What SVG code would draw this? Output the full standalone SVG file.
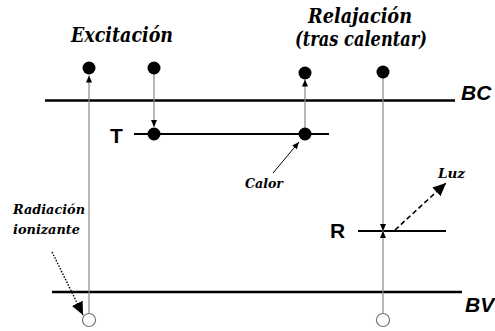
<svg xmlns="http://www.w3.org/2000/svg" width="495" height="331" viewBox="0 0 495 331">
<style>
.band{stroke:#000;stroke-width:2.6;fill:none}
.lvl{stroke:#000;stroke-width:2;fill:none}
.tr{stroke:#888;stroke-width:1.2;fill:none}
.el{fill:#000}
.hole{fill:#fff;stroke:#777;stroke-width:1.2}
.ttl{font-family:'DejaVu Serif',serif;font-weight:700;font-style:italic;font-size:20px;fill:#000}
.lbl{font-family:'DejaVu Serif',serif;font-weight:700;font-style:italic;font-size:13.5px;fill:#000}
.sym{font-family:'Liberation Sans',Arial,sans-serif;font-weight:700;font-size:21px;fill:#000}
.bnd{font-family:'Liberation Sans',Arial,sans-serif;font-weight:700;font-style:italic;font-size:21px;fill:#000}
</style>
<defs>
<marker id="sm" markerUnits="userSpaceOnUse" markerWidth="8" markerHeight="8" refX="7" refY="4" orient="auto">
<path d="M0,1 L7,4 L0,7 Z" fill="#000"/>
</marker>
<marker id="lg" markerUnits="userSpaceOnUse" markerWidth="14" markerHeight="12" refX="13" refY="6" orient="auto">
<path d="M0,0 L13,6 L0,12 Z" fill="#000"/>
</marker>
</defs>

<g id="titles">
<text class="ttl" x="71" y="42" textLength="102" lengthAdjust="spacingAndGlyphs">Excitación</text>
<text class="ttl" x="308" y="23" textLength="104" lengthAdjust="spacingAndGlyphs">Relajación</text>
<text class="ttl" x="295" y="46" textLength="132" lengthAdjust="spacingAndGlyphs">(tras calentar)</text>
</g>

<g id="band-BC">
<line class="band" x1="45" y1="100.5" x2="455" y2="100.5"/>
<text class="bnd" x="461" y="100">BC</text>
</g>
<g id="band-BV">
<line class="band" x1="52" y1="292" x2="462" y2="292"/>
<text class="bnd" x="465" y="312">BV</text>
</g>
<g id="level-T">
<line class="lvl" x1="134" y1="134" x2="329" y2="134"/>
<text class="sym" x="110" y="143">T</text>
</g>
<g id="level-R">
<line class="lvl" x1="358" y1="231" x2="446" y2="231"/>
<text class="sym" x="330" y="238">R</text>
</g>

<g id="connectors">
<line class="tr" x1="89" y1="313" x2="89" y2="75.5" marker-end="url(#sm)"/>
<line class="tr" x1="154" y1="68" x2="154" y2="127" marker-end="url(#sm)"/>
<line class="tr" x1="305" y1="134" x2="305" y2="79.5" marker-end="url(#sm)"/>
<line class="tr" x1="383" y1="72" x2="383" y2="231" marker-end="url(#sm)"/>
<line class="tr" x1="383" y1="313" x2="383" y2="231" marker-end="url(#sm)"/>
<line x1="273" y1="173" x2="299" y2="142" stroke="#000" stroke-width="1" marker-end="url(#sm)"/>
<line x1="395" y1="230" x2="446" y2="183" stroke="#000" stroke-width="1.6" stroke-dasharray="5,3" marker-end="url(#lg)"/>
<line x1="52" y1="252" x2="83" y2="315" stroke="#000" stroke-width="1.4" stroke-dasharray="1.5,1.5" marker-end="url(#lg)"/>
</g>

<g id="electrons">
<circle class="el" cx="89" cy="68" r="6.5"/>
<circle class="el" cx="154" cy="68" r="6.5"/>
<circle class="el" cx="305" cy="73" r="6.5"/>
<circle class="el" cx="383" cy="72" r="6.5"/>
<circle class="el" cx="154" cy="134" r="6.5"/>
<circle class="el" cx="305" cy="134" r="6.5"/>
</g>
<g id="holes">
<circle class="hole" cx="89" cy="320" r="6.5"/>
<circle class="hole" cx="383" cy="320" r="6.5"/>
</g>

<g id="labels">
<text class="lbl" x="245" y="188" textLength="38" lengthAdjust="spacingAndGlyphs">Calor</text>
<text class="lbl" x="438" y="178" textLength="27" lengthAdjust="spacingAndGlyphs">Luz</text>
<text class="lbl" x="13" y="214" textLength="72" lengthAdjust="spacingAndGlyphs">Radiación</text>
<text class="lbl" x="13" y="234" textLength="67" lengthAdjust="spacingAndGlyphs">ionizante</text>
</g>
</svg>
